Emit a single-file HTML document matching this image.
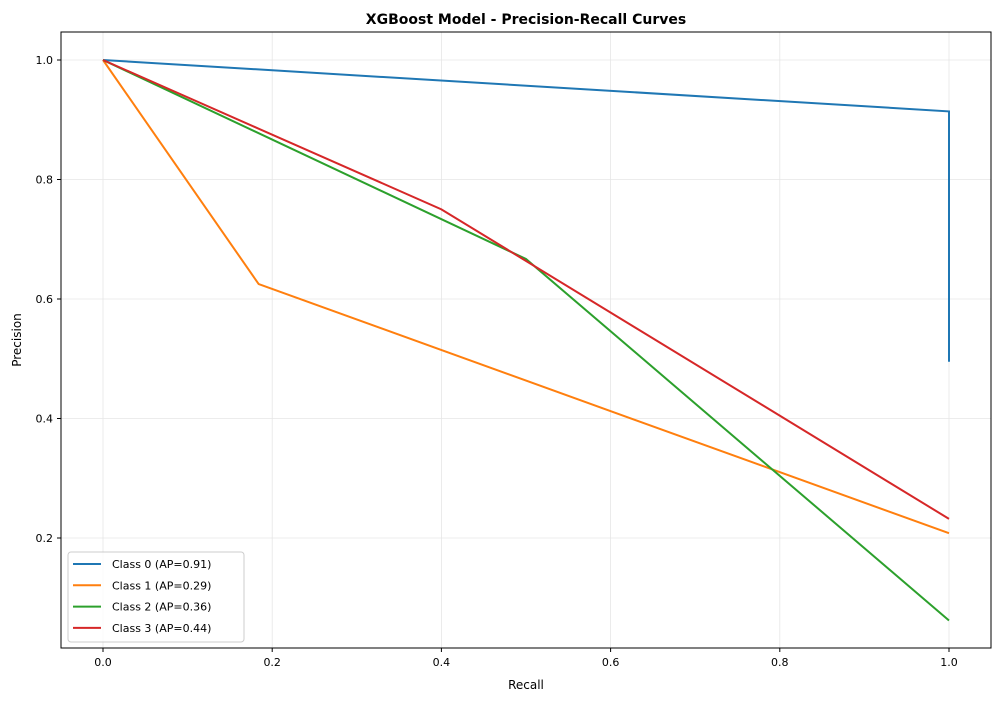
<!DOCTYPE html>
<html><head><meta charset="utf-8"><style>
body{margin:0;background:#fff;font-family:"Liberation Sans","DejaVu Sans",sans-serif;}
</style></head><body>
<svg id="chart" width="1001" height="701" xmlns="http://www.w3.org/2000/svg" font-family="DejaVu Sans, Liberation Sans, sans-serif">
<rect width="1001" height="701" fill="#fff"/>
<text x="526" y="24" text-anchor="middle" font-size="14" font-weight="bold">XGBoost Model - Precision-Recall Curves</text>
<text x="526" y="689" text-anchor="middle" font-size="12">Recall</text>
<text x="21" y="340" text-anchor="middle" font-size="12" transform="rotate(-90 21 340)">Precision</text>
<g id="grid"></g><g id="ticks"></g><g id="series"></g>
<rect x="61" y="32" width="930" height="616" fill="none" stroke="#000" stroke-width="1"/>
<g id="legend"></g>
</svg>
<script>
const classNames=["Class 0 (AP=0.91)","Class 1 (AP=0.29)","Class 2 (AP=0.36)","Class 3 (AP=0.44)"];
const colors=["#1f77b4","#ff7f0e","#2ca02c","#d62728"];
const recall0=[0,1,1], precision0=[1,0.914,0.495];
const recall1=[0,0.184,1], precision1=[1,0.625,0.208];
const recall2=[0,0.5,1], precision2=[1,0.667,0.062];
const recall3=[0,0.4,1], precision3=[1,0.75,0.232];
const xTicks=[0,0.2,0.4,0.6,0.8,1.0];
const yTicks=[0.2,0.4,0.6,0.8,1.0];
const NS="http://www.w3.org/2000/svg";
const sx=v=>103+v*846, sy=v=>657.5-v*597.5;
function mk(t,a,p){const e=document.createElementNS(NS,t);for(const k in a)e.setAttribute(k,a[k]);p.appendChild(e);return e;}
const grid=document.getElementById('grid'),ticks=document.getElementById('ticks'),ser=document.getElementById('series'),leg=document.getElementById('legend');
xTicks.forEach(v=>{const x=sx(v);
 const g=mk('line',{x1:x,x2:x,y1:32,y2:648,stroke:'#e6e6e6','stroke-width':0.8},grid);
 
 const t=mk('line',{x1:x,x2:x,y1:648,y2:652,stroke:'#000'},ticks);
 
 const l=mk('text',{x:x,y:666,'text-anchor':'middle','font-size':11},ticks);l.textContent=v.toFixed(1);
 });
yTicks.forEach(v=>{const y=sy(v);
 const g=mk('line',{x1:61,x2:991,y1:y,y2:y,stroke:'#e6e6e6','stroke-width':0.8},grid);
 
 const t=mk('line',{x1:57,x2:61,y1:y,y2:y,stroke:'#000'},ticks);
 
 const l=mk('text',{x:53,y:y+4,'text-anchor':'end','font-size':11},ticks);l.textContent=v.toFixed(1);
 });
const R=[recall0,recall1,recall2,recall3],P=[precision0,precision1,precision2,precision3];
R.forEach((r,i)=>{const pts=r.map((v,j)=>sx(v)+','+sy(P[i][j])).join(' ');
 const pl=mk('polyline',{points:pts,fill:'none',stroke:colors[i],'stroke-width':2},ser);
 });
const box=mk('rect',{x:68,y:552,width:176,height:90,rx:3,fill:'#fff','fill-opacity':0.8,stroke:'#ccc'},leg);

classNames.forEach((n,i)=>{const y=564+i*21.3;
 const ln=mk('line',{x1:73,x2:101,y1:y,y2:y,stroke:colors[i],'stroke-width':2},leg);
 
 const t=mk('text',{x:112,y:y+4,'font-size':11},leg);t.textContent=n;
 });
</script>
</body></html>
